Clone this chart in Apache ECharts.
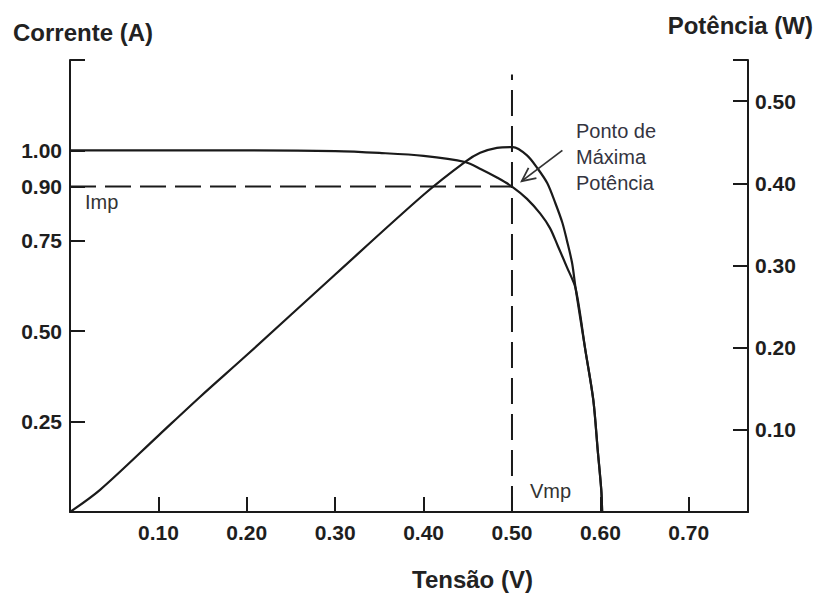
<!DOCTYPE html>
<html>
<head>
<meta charset="utf-8">
<script src="https://cdn.jsdelivr.net/npm/echarts@6/dist/echarts.min.js"></script>
<style>
html,body{margin:0;padding:0;background:#fff;}
#c{width:816px;height:594px;}
</style>
</head>
<body>
<div id="c"></div>
<script>
// ---- data ----
const voltsIV   = [0, 0.10, 0.20, 0.30, 0.35, 0.40, 0.447, 0.465, 0.483, 0.50, 0.517, 0.532, 0.543, 0.552, 0.562, 0.572, 0.583, 0.592, 0.597, 0.601, 0.602];
const currentIV = [1.00, 1.00, 1.00, 0.998, 0.993, 0.985, 0.968, 0.948, 0.925, 0.90, 0.866, 0.825, 0.785, 0.735, 0.678, 0.618, 0.448, 0.310, 0.171, 0.061, 0];
const voltsP    = [0, 0.034, 0.10, 0.147, 0.20, 0.30, 0.40, 0.447, 0.464, 0.483, 0.501, 0.517, 0.529, 0.540, 0.549, 0.557, 0.562, 0.568, 0.572, 0.583, 0.592, 0.597, 0.601, 0.602];
const powerP    = [0, 0.027, 0.093, 0.140, 0.191, 0.289, 0.386, 0.426, 0.437, 0.443, 0.444, 0.434, 0.418, 0.400, 0.376, 0.352, 0.331, 0.303, 0.272, 0.197, 0.136, 0.075, 0.027, 0];
const xTickValues     = [0.10, 0.20, 0.30, 0.40, 0.50, 0.60, 0.70];
const leftTickValues  = [0.25, 0.50, 0.75, 0.90, 1.00];
const rightTickValues = [0.10, 0.20, 0.30, 0.40, 0.50];
const Vmp = 0.50;
const Imp = 0.90;
const vmpLineTop = 1.21;          // top end of the vertical dashed line (A scale)
const arrowTail = [0.557, 1.00];  // annotation arrow (V, A)
const arrowTip  = [0.511, 0.915];

const ink = '#1a1a1a';
const font = '"Liberation Sans", Arial, sans-serif';

const chart = echarts.init(document.getElementById('c'), null, {renderer: 'svg'});

const axisCommon = {
  splitLine: {show: false},
  axisLine: {show: true, lineStyle: {color: ink, width: 2}},
  axisTick: {show: true, inside: true, length: 15, lineStyle: {color: ink, width: 2}},
  axisLabel: {color: '#1e1e1e', fontFamily: font, fontWeight: 'bold', fontSize: 21,
              formatter: v => v.toFixed(2)}
};

const option = {
  animation: false,
  backgroundColor: '#fff',
  grid: {left: 70, right: 68, top: 60, bottom: 82},
  xAxis: {
    type: 'value', min: 0, max: 0.767,
    ...axisCommon,
    axisLine: {show: true, onZero: false, lineStyle: {color: ink, width: 2}},
    axisTick: {...axisCommon.axisTick, customValues: xTickValues},
    axisLabel: {...axisCommon.axisLabel, margin: 10, customValues: xTickValues}
  },
  yAxis: [
    {
      type: 'value', min: 0, max: 1.25, position: 'left',
      ...axisCommon,
      axisTick: {...axisCommon.axisTick, customValues: leftTickValues.concat([1.25])},
      axisLabel: {...axisCommon.axisLabel, margin: 8, customValues: leftTickValues}
    },
    {
      type: 'value', min: 0, max: 0.55, position: 'right',
      ...axisCommon,
      axisTick: {...axisCommon.axisTick, customValues: rightTickValues.concat([0.55])},
      axisLabel: {...axisCommon.axisLabel, margin: 7, customValues: rightTickValues}
    }
  ],
  series: [
    {
      name: 'I-V', type: 'line', yAxisIndex: 0, showSymbol: false,
      smooth: 0.3, z: 5,
      lineStyle: {color: ink, width: 2.2},
      data: voltsIV.map((v, i) => [v, currentIV[i]])
    },
    {
      name: 'P-V', type: 'line', yAxisIndex: 1, showSymbol: false,
      smooth: 0.3, z: 5,
      lineStyle: {color: ink, width: 2.2},
      data: voltsP.map((v, i) => [v, powerP[i]])
    },
    {
      name: 'Imp', type: 'line', yAxisIndex: 0, showSymbol: false, z: 3,
      lineStyle: {color: ink, width: 2, type: [26, 9]},
      data: [[0, Imp], [Vmp, Imp]]
    },
    {
      name: 'Vmp', type: 'line', yAxisIndex: 0, showSymbol: false, z: 3,
      lineStyle: {color: ink, width: 2, type: [26, 10]},
      data: [[Vmp, 0], [Vmp, vmpLineTop]]
    }
  ],
  graphic: [
    {type: 'text', left: 13, top: 20, style: {text: 'Corrente (A)', font: 'bold 24px ' + font, fill: '#222'}},
    {type: 'text', right: 3, top: 13, style: {text: 'Potência (W)', font: 'bold 24px ' + font, fill: '#222'}},
    {type: 'text', left: 412, top: 567, style: {text: 'Tensão (V)', font: 'bold 24px ' + font, fill: '#222'}},
    {type: 'text', left: 85, top: 192, style: {text: 'Imp', font: '20px ' + font, fill: '#333'}},
    {type: 'text', left: 530, top: 481, style: {text: 'Vmp', font: '20px ' + font, fill: '#333'}},
    {type: 'text', left: 576, top: 118, style: {text: 'Ponto de\nMáxima\nPotência', font: '20px ' + font, fill: '#34343f', lineHeight: 26}}
  ]
};
chart.setOption(option);

// arrow pointing to the maximum power point, positioned through the axes
const t = chart.convertToPixel({xAxisIndex: 0, yAxisIndex: 0}, arrowTail);
const p = chart.convertToPixel({xAxisIndex: 0, yAxisIndex: 0}, arrowTip);
const dx = t[0] - p[0], dy = t[1] - p[1];
const len = Math.hypot(dx, dy);
const ux = dx / len, uy = dy / len;
const hl = 15, ang = 0.45;
const rot = (a) => [p[0] + hl * (ux * Math.cos(a) - uy * Math.sin(a)), p[1] + hl * (ux * Math.sin(a) + uy * Math.cos(a))];
chart.setOption({
  graphic: option.graphic.concat([
    {type: 'line', shape: {x1: t[0], y1: t[1], x2: p[0], y2: p[1]}, style: {stroke: '#333', lineWidth: 1.8}, z: 10},
    {type: 'polyline', shape: {points: [rot(ang), p, rot(-ang)]}, style: {stroke: '#333', lineWidth: 1.8, fill: null}, z: 10}
  ])
});
</script>
</body>
</html>
